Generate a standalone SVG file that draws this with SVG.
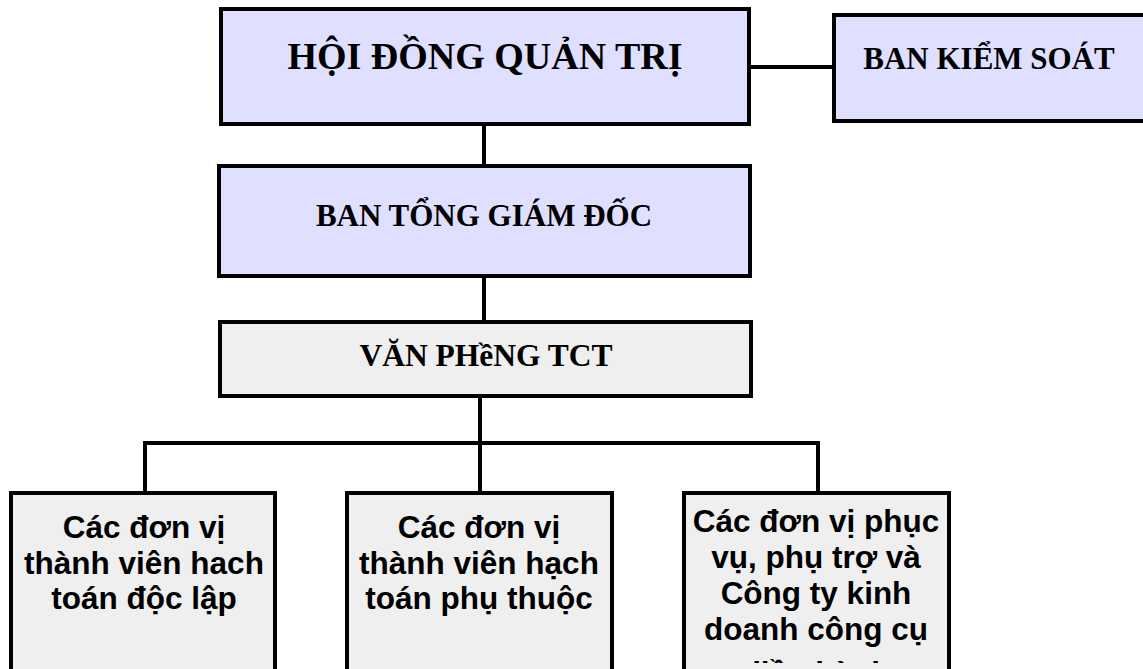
<svg xmlns="http://www.w3.org/2000/svg" width="1143" height="669" viewBox="0 0 1143 669">
<style>
.box{stroke:#000;stroke-width:4}
.top{fill:#dfdfff}
.gray{fill:#efefef}
.ser{font-family:"Liberation Serif","Times New Roman",serif;font-weight:bold;fill:#000;text-anchor:middle}
.san{font-family:"Liberation Sans",Arial,sans-serif;font-weight:bold;fill:#000;text-anchor:middle;font-size:31.5px}
.con{fill:none;stroke:#000;stroke-width:4}
</style>
<defs>
<clipPath id="clip3"><rect x="686" y="495" width="261" height="168"/></clipPath>
</defs>
<rect width="1143" height="669" fill="#fff"/>
<g id="connectors">
<line class="con" x1="484" y1="124" x2="484" y2="166"/>
<line class="con" x1="749" y1="67" x2="834" y2="67"/>
<line class="con" x1="484" y1="276" x2="484" y2="322"/>
<line class="con" x1="480" y1="396" x2="480" y2="443"/>
<polyline class="con" points="145,493 145,443 818,443 818,493"/>
<line class="con" x1="480" y1="443" x2="480" y2="493"/>
</g>
<g id="hdqt">
<rect class="box top" x="221" y="9" width="528" height="115"/>
<text class="ser" x="485" y="69" font-size="38">HỘI ĐỒNG QUẢN TRỊ</text>
</g>
<g id="bks">
<rect class="box top" x="834" y="15" width="330" height="106"/>
<text class="ser" x="989" y="69" font-size="31">BAN KIỂM SOÁT</text>
</g>
<g id="btgd">
<rect class="box top" x="219" y="166" width="531" height="110"/>
<text class="ser" x="484" y="226" font-size="31">BAN TỔNG GIÁM ĐỐC</text>
</g>
<g id="vp">
<rect class="box gray" x="220" y="322" width="531" height="74"/>
<text class="ser" x="486" y="366" font-size="31.5">VĂN PHềNG TCT</text>
</g>
<g id="b1">
<rect class="box gray" x="11" y="493" width="264" height="200"/>
<text class="san" x="144"><tspan x="144" y="538">Các đơn vị</tspan><tspan x="144" y="574">thành viên hach</tspan><tspan x="144" y="609">toán độc lập</tspan></text>
</g>
<g id="b2">
<rect class="box gray" x="347" y="493" width="265" height="200"/>
<text class="san" x="479"><tspan x="479" y="538">Các đơn vị</tspan><tspan x="479" y="574">thành viên hạch</tspan><tspan x="479" y="609">toán phụ thuộc</tspan></text>
</g>
<g id="b3">
<rect class="box gray" x="684" y="493" width="265" height="200"/>
<text class="san" x="816" clip-path="url(#clip3)"><tspan x="816" y="532">Các đơn vị phục</tspan><tspan x="816" y="568">vụ, phụ trợ và</tspan><tspan x="816" y="604">Công ty kinh</tspan><tspan x="816" y="640">doanh công cụ</tspan><tspan x="816" y="684">điều hành</tspan></text>
</g>
</svg>
